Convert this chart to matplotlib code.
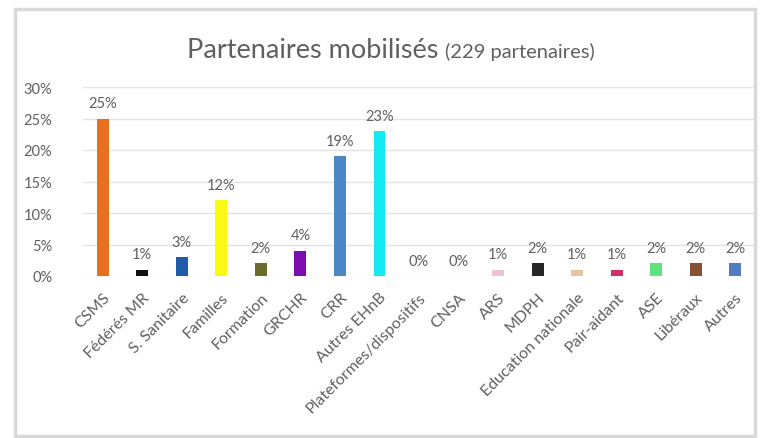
import matplotlib
matplotlib.use("Agg")
import matplotlib.pyplot as plt
from matplotlib.patches import Rectangle

plt.rcParams['font.family'] = ['Lato', 'DejaVu Sans']

categories = ["CSMS", "Fédérés MR", "S. Sanitaire", "Familles", "Formation",
              "GRCHR", "CRR", "Autres EHnB", "Plateformes/dispositifs", "CNSA",
              "ARS", "MDPH", "Education nationale", "Pair-aidant", "ASE",
              "Libéraux", "Autres"]
shares = [25, 1, 3, 12, 2, 4, 19, 23, 0, 0, 1, 2, 1, 1, 2, 2, 2]
colors = ["#E8701E", "#111111", "#1F5DA8", "#F8FA14", "#6B6B2C", "#7A10B2",
          "#4C88C6", "#14EAF2", "#CCCCCC", "#CCCCCC", "#F0C2DA", "#262626",
          "#E6C49C", "#D42E6A", "#5EE27C", "#8A5234", "#4E7EBF"]
yticks = [0, 5, 10, 15, 20, 25, 30]
title_main = "Partenaires mobilisés"
title_sub = "(229 partenaires)"

W, H = 760, 439
TEXT = "#606060"
fig = plt.figure(figsize=(W / 100, H / 100), dpi=100)
fig.patch.set_facecolor("white")

# light grey chart frame
fig.patches.append(Rectangle((15 / W, 2 / H), 740 / W, 427 / H,
                             transform=fig.transFigure, fill=False,
                             edgecolor="#D9D9D9", linewidth=2.5))

ax = fig.add_axes([83 / W, 1 - 277 / H, 672 / W, 189 / H])
x = range(len(categories))
ax.bar(x, shares, width=0.3, color=colors, zorder=3)
ax.set_xlim(-0.5, len(categories) - 0.5)
ax.set_ylim(0, 30)
ax.set_yticks(yticks)
ax.set_yticklabels([f"{v}%" for v in yticks], color=TEXT, fontsize=10.5)
ax.set_xticks(list(x))
ax.set_xticklabels(categories, rotation=45, ha="right", rotation_mode="anchor",
                   color=TEXT, fontsize=11.5)
ax.tick_params(axis="x", length=0, pad=10)
ax.tick_params(axis="y", length=0, pad=22)
for s in ax.spines.values():
    s.set_visible(False)
ax.yaxis.grid(True, color="#E3E3E3", linewidth=1, zorder=0)
ax.set_axisbelow(True)

for i, v in enumerate(shares):
    ax.annotate(f"{v}%", (i, v), xytext=(0, 6), textcoords="offset points",
                ha="center", va="bottom", color=TEXT, fontsize=10.5)

fig.text(438 / W, 1 - 58 / H, title_main, ha="right", va="baseline",
         color=TEXT, fontsize=19.5)
fig.text(445 / W, 1 - 58 / H, title_sub, ha="left", va="baseline",
         color=TEXT, fontsize=14.5)

fig.savefig("out.png", dpi=100)
